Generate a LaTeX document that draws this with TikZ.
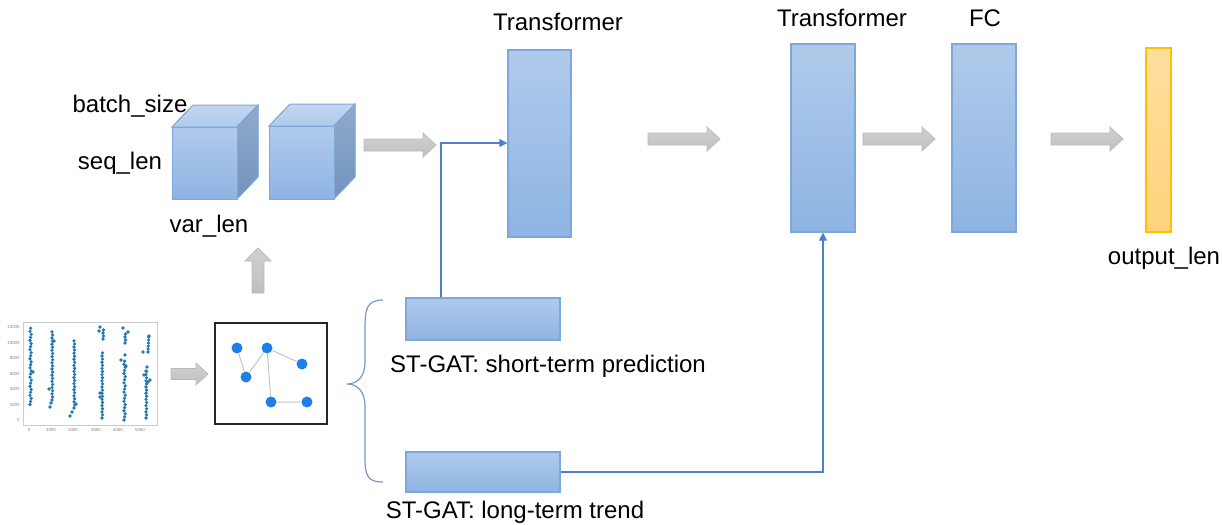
\documentclass[tikz,border=0pt]{standalone}
\usepackage{fontspec}
\setmainfont{Liberation Sans}
\usetikzlibrary{arrows.meta,calc,backgrounds}
\definecolor{bfront1}{HTML}{B0CAEB}
\definecolor{bfront2}{HTML}{8EB4E3}
\definecolor{bborder}{HTML}{7EA7DA}
\definecolor{btop1}{HTML}{C3D7F0}
\definecolor{btop2}{HTML}{AECAEC}
\definecolor{bside1}{HTML}{8FAACD}
\definecolor{bside2}{HTML}{7293BB}
\definecolor{obox1}{HTML}{FFDE9E}
\definecolor{obox2}{HTML}{FFD37C}
\definecolor{oborder}{HTML}{FFC000}
\definecolor{garr1}{HTML}{D0D0D0}
\definecolor{garr2}{HTML}{C0C0C0}
\definecolor{garrb}{HTML}{BBBBBB}
\definecolor{lineblue}{HTML}{4F7FCC}
\definecolor{bracec}{HTML}{6F98D4}
\definecolor{dotc}{HTML}{1F77B4}
\definecolor{gnode}{HTML}{1E80E6}
\definecolor{gedge}{HTML}{C4C4C4}
\tikzset{
  bluebox/.style={draw=bborder, line width=0.6pt, top color=bfront1, bottom color=bfront2, inner sep=0pt},
  outbox/.style={draw=oborder, line width=0.6pt, top color=obox1, bottom color=obox2, inner sep=0pt},
  garrow/.style={draw=garrb, line width=0.4pt, top color=garr1, bottom color=garr2},
  rarrow/.pic={\draw[garrow] (0,-6)--(59,-6)--(59,-12)--(72,0)--(59,12)--(59,6)--(0,6)--cycle;},
  sarrow/.pic={\draw[garrow] (0,-5.5)--(25,-5.5)--(25,-11)--(37,0)--(25,11)--(25,5.5)--(0,5.5)--cycle;},
  uarrow/.pic={\draw[garrow] (-6,0)--(-6,-32)--(-13,-32)--(0,-45)--(13,-32)--(6,-32)--(6,0)--cycle;},
  lbl/.style={font=\fontsize{12pt}{14pt}\selectfont, text=black, inner sep=0pt},
  tick/.style={font=\fontsize{2.2pt}{2.4pt}\selectfont, text=gray, inner sep=0pt},
  conn/.style={draw=lineblue, line width=0.55pt},
  gn/.style={circle, fill=gnode, minimum size=5.5pt, inner sep=0pt},
  dot/.style={fill=dotc},
}
\newcommand{\mycube}[4]{% x1 y1 x2 y2 of front face
  \fill[top color=btop1, bottom color=btop2, draw=bborder, line width=0.5pt]
    (#1,#2)--(#1+21,#2-22)--(#3+21,#2-22)--(#3,#2)--cycle;
  \fill[top color=bside1, bottom color=bside2, draw=bborder, line width=0.5pt]
    (#3,#2)--(#3+21,#2-22)--(#3+21,#4-22)--(#3,#4)--cycle;
  \fill[top color=bfront1, bottom color=bfront2, draw=bborder, line width=0.5pt]
    (#1,#2) rectangle (#3,#4);
}
\newcommand{\dd}{1.8}
\begin{document}
\begin{tikzpicture}[x=0.5pt,y=-0.5pt]
\useasboundingbox (0,0) rectangle (1222,525);

% ---- scatter plot thumbnail ----
\draw[draw=black!20, line width=0.4pt] (23,322) rectangle (157,425);
\foreach \t/\yy in {12000/327,10000/342.5,8000/358,6000/373.5,4000/389,2000/404.5,0/420}
  \node[tick, anchor=east] at (20,\yy) {\t};
\foreach \t/\xx in {0/29,1000/51,2000/73,3000/96,4000/118,5000/140}
  \node[tick] at (\xx,430) {\t};
% column 1
\foreach \i in {0,...,25} \fill[dot] ({30+0.6*mod(\i,3)},{404.5-3.05*\i}) circle (\dd);
\fill[dot] (33,372) circle (\dd);
% column 2
\foreach \i in {0,...,22} \fill[dot] ({52+0.6*mod(\i,2)},{400-3.1*\i}) circle (\dd);
\fill[dot] (50,407) circle (\dd); \fill[dot] (51,403) circle (\dd);
\fill[dot] (49,389) circle (\dd); \fill[dot] (54,341) circle (\dd);
% column 3
\foreach \i in {0,...,22} \fill[dot] ({74+0.6*mod(\i,2)},{408-3.05*\i}) circle (\dd);
\fill[dot] (70,416) circle (\dd); \fill[dot] (72,412) circle (\dd); \fill[dot] (76,404) circle (\dd);
% column 4
\foreach \i in {0,...,21} \fill[dot] ({102+0.5*mod(\i,2)},{418-3.1*\i}) circle (\dd);
\fill[dot] (100,397) circle (\dd); \fill[dot] (100,393) circle (\dd);
\foreach \i in {0,...,3} \fill[dot] ({103+0.5*mod(\i,2)},{339-3*\i}) circle (\dd);
\fill[dot] (100,327) circle (\dd); \fill[dot] (99,331) circle (\dd);
% column 5
\foreach \i in {0,...,19} \fill[dot] ({124+0.6*mod(\i,3)},{420-3.1*\i}) circle (\dd);
\fill[dot] (121,360) circle (\dd); \fill[dot] (126,366) circle (\dd); \fill[dot] (125,355) circle (\dd);
\foreach \i in {0,...,3} \fill[dot] ({125+0.5*mod(\i,2)},{343-3*\i}) circle (\dd);
\fill[dot] (123,328) circle (\dd); \fill[dot] (128,332) circle (\dd);
% column 6
\foreach \i in {0,...,15} \fill[dot] ({146+0.6*mod(\i,2)},{418-3.1*\i}) circle (\dd);
\fill[dot] (144,375) circle (\dd); \fill[dot] (148,382) circle (\dd); \fill[dot] (150,380) circle (\dd);
\fill[dot] (147,367) circle (\dd); \fill[dot] (146,371) circle (\dd);
\foreach \i in {0,...,5} \fill[dot] ({148+0.15*\i},{352-3*\i}) circle (\dd);
\fill[dot] (143,352) circle (\dd); \fill[dot] (149,336) circle (\dd);

% small gray arrow to graph
\pic at (171,374) {sarrow};

% ---- graph box ----
\node[draw=black!85, line width=0.8pt, minimum width=56pt, minimum height=50.5pt, inner sep=0pt] (gbox) at (271,373.5) {};
\node[gn] (n1) at (237,348) {};
\node[gn] (n2) at (267,348) {};
\node[gn] (n3) at (302,364) {};
\node[gn] (n4) at (246,377) {};
\node[gn] (n5) at (271,402) {};
\node[gn] (n6) at (307,402) {};
\begin{scope}[on background layer]
\draw[gedge, line width=0.5pt] (n1)--(n4) (n4)--(n2) (n2)--(n3) (n2)--(n5) (n5)--(n6);
\end{scope}

% up arrow
\pic at (258,293) {uarrow};

% ---- cubes ----
\mycube{172}{127}{237}{199}
\mycube{269}{126}{334}{199}
\node[lbl] (bs) at (130,106) {batch\_size};
\node[lbl] (sl) at (120,163) {seq\_len};
\node[lbl] (vl) at (209,226) {var\_len};

% gray arrows
\pic at (364,145) {rarrow};
\pic at (648,139) {rarrow};
\pic at (863,139) {rarrow};
\pic at (1051,139) {rarrow};

% ---- main boxes ----
\node[bluebox, minimum width=31.5pt, minimum height=93.5pt] (tr1) at (539.5,143.5) {};
\node[bluebox, minimum width=32pt, minimum height=94pt] (tr2) at (823,138) {};
\node[bluebox, minimum width=32pt, minimum height=94pt] (fc) at (984,138) {};
\node[outbox, minimum width=12.5pt, minimum height=92pt] (out) at (1158.5,140) {};
\node[bluebox, minimum width=77pt, minimum height=21pt] (st) at (483,319) {};
\node[bluebox, minimum width=77pt, minimum height=20pt] (lt) at (483,472) {};

\node[lbl] (t1) at (558,22) {Transformer};
\node[lbl] (t2) at (842,18) {Transformer};
\node[lbl] (t3) at (985,18) {FC};
\node[lbl] (ol) at (1164,258) {output\_len};
\node[lbl] (stl) at (548,366) {ST-GAT: short-term prediction};
\node[lbl] (ltl) at (515,512) {ST-GAT: long-term trend};

% ---- connectors ----
\coordinate (j1) at (441,143);
\draw[conn, -{Triangle[length=4pt,width=4pt]}] (j1 |- st.north) |- (tr1.west |- j1);
\draw[conn, -{Triangle[length=4pt,width=4pt]}] (lt.east) -| (tr2.south);

% ---- brace ----
\draw[draw=bracec, line width=0.6pt]
  (383,300) .. controls (366,300) and (365,310) .. (365,330)
  -- (365,362) .. controls (365,378) and (356,384) .. (347,384)
  .. controls (356,384) and (365,390) .. (365,406)
  -- (365,458) .. controls (365,476) and (368,482) .. (383,482);
\end{tikzpicture}
\end{document}
